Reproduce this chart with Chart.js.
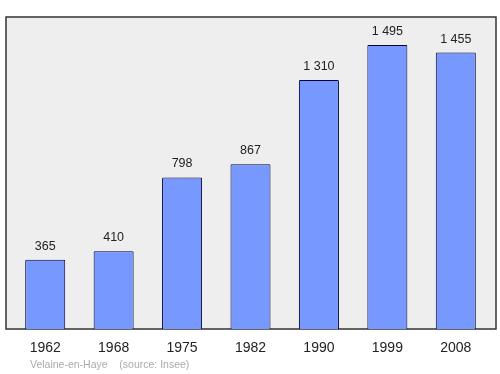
<!DOCTYPE html>
<html><head><meta charset="utf-8">
<script src="https://cdn.jsdelivr.net/npm/chart.js@4/dist/chart.umd.min.js"></script>
<style>html,body{margin:0;padding:0;background:#fff}#w{width:500px;height:374px;position:relative}</style>
</head><body><div id="w"><canvas id="c" width="500" height="374"></canvas></div>
<script>
const years = ["1962","1968","1975","1982","1990","1999","2008"];
const population = [365,410,798,867,1310,1495,1455];
const valueLabels = ["365","410","798","867","1 310","1 495","1 455"];
const sourceText = "Velaine-en-Haye    (source: Insee)";

const framePlugin = {
  id:'frame',
  beforeDraw(chart){
    const {ctx} = chart;
    ctx.save();
    ctx.fillStyle='#eeeeee';
    ctx.fillRect(6,17,490,312);
    ctx.strokeStyle='#333333';
    ctx.lineWidth=1.5;
    ctx.strokeRect(6,17,490,312);
    ctx.restore();
  },
  afterDatasetsDraw(chart){
    const {ctx}=chart;
    const meta=chart.getDatasetMeta(0);
    ctx.save();
    ctx.font='12.5px "Liberation Sans", Arial, sans-serif';
    ctx.fillStyle='#222';
    ctx.textAlign='center';
    ctx.textBaseline='alphabetic';
    meta.data.forEach((el,i)=>{ ctx.fillText(valueLabels[i], el.x, el.y-10); });
    ctx.font='10.5px "Liberation Sans", Arial, sans-serif';
    ctx.fillStyle='#aaaaaa';
    ctx.textAlign='left';
    ctx.fillText(sourceText, 30, 368);
    ctx.restore();
  }
};

new Chart(document.getElementById('c'),{
  type:'bar',
  data:{labels:years,datasets:[{data:population,backgroundColor:'#7799ff',borderColor:'#000033',borderWidth:1,borderSkipped:'bottom',borderRadius:1,barPercentage:0.585,categoryPercentage:1}]},
  options:{
    responsive:false,animation:false,
    layout:{padding:{left:11,right:10,top:17,bottom:6}},
    plugins:{legend:{display:false},tooltip:{enabled:false}},
    scales:{
      x:{grid:{display:false,drawTicks:false},border:{display:false},
         ticks:{color:'#222',font:{family:'"Liberation Sans", Arial, sans-serif',size:14},padding:11,maxRotation:0}},
      y:{display:false,min:0,max:1642}
    }
  },
  plugins:[framePlugin]
});
</script></body></html>
